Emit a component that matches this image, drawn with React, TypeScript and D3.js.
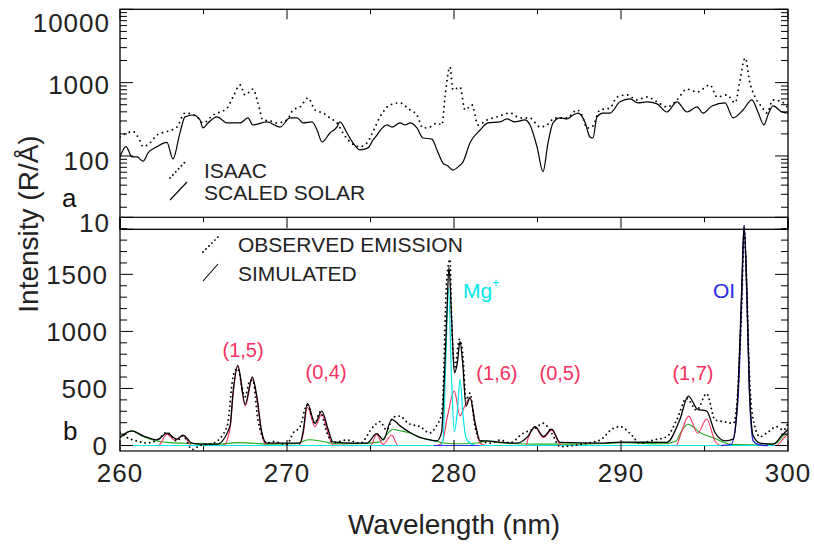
import React from 'react';
import * as d3 from 'd3';

type Pt = [number, number];

// wavelength (nm), intensity (R/Å)
const solarTop: Pt[] = [
  [260.0, 97], [260.36, 134], [260.72, 97], [261.02, 97], [261.38, 85], [261.68, 110], [262.22, 134],
  [262.81, 153], [263.17, 91], [263.59, 206], [263.89, 341], [264.37, 362], [264.79, 310], [264.97, 241],
  [265.27, 282], [265.81, 341], [266.41, 282], [267.19, 282], [267.66, 330], [267.96, 265], [268.8, 291],
  [269.58, 248], [270.18, 330], [270.6, 330], [270.96, 282], [271.5, 291], [271.8, 226], [272.1, 155],
  [272.57, 206], [272.99, 248], [273.17, 291], [273.59, 206], [273.95, 151], [274.37, 121], [274.85, 129],
  [275.15, 165], [275.39, 193], [275.57, 221], [275.99, 265], [276.29, 248], [276.77, 282], [277.07, 265],
  [277.37, 282], [277.78, 241], [278.14, 176], [278.68, 170], [278.98, 121], [279.34, 80], [279.64, 73],
  [279.94, 64], [280.24, 71], [280.54, 83], [280.96, 151], [281.56, 226], [282.04, 282], [282.75, 291],
  [283.17, 320], [283.65, 291], [284.25, 310], [284.55, 265], [284.97, 134], [285.33, 61], [285.63, 151],
  [285.93, 282], [286.35, 330], [286.77, 320], [287.13, 362], [287.43, 385], [287.84, 291], [288.14, 182],
  [288.32, 176], [288.56, 341], [288.92, 385], [289.34, 385], [289.94, 547], [290.54, 599], [291.02, 530],
  [291.56, 547], [292.16, 513], [292.75, 398], [293.35, 547], [293.95, 398], [294.55, 467], [294.91, 385],
  [295.45, 481], [296.23, 530], [296.71, 330], [297.31, 424], [297.84, 581], [298.2, 398], [298.56, 265],
  [298.8, 362], [299.1, 481], [299.64, 398], [300.0, 385],
];

const isaacTop: Pt[] = [
  [260.0, 182], [260.78, 215], [261.2, 161], [261.38, 134], [261.8, 151], [262.22, 193], [262.81, 215],
  [263.41, 248], [263.89, 385], [264.61, 341], [264.97, 282], [265.57, 362], [266.41, 450], [266.77, 637],
  [267.19, 931], [267.49, 679], [267.96, 817], [268.26, 530], [268.56, 310], [268.98, 300], [269.4, 282],
  [270.0, 310], [270.36, 424], [270.78, 466], [271.26, 618], [271.68, 424], [272.16, 385], [272.57, 330],
  [272.99, 282], [273.35, 206], [273.77, 155], [274.37, 134], [274.79, 151], [275.15, 215], [275.57, 341],
  [276.17, 496], [276.77, 530], [277.07, 481], [277.37, 424], [277.78, 362], [278.14, 241], [278.56, 248],
  [278.98, 282], [279.28, 265], [279.46, 637], [279.76, 1637], [279.94, 794], [280.36, 870], [280.66, 424],
  [281.08, 496], [281.44, 265], [281.98, 310], [282.57, 341], [283.35, 385], [283.95, 330], [284.55, 330],
  [285.15, 248], [285.57, 265], [286.05, 330], [286.77, 330], [287.37, 424], [287.66, 362], [287.96, 241],
  [288.26, 248], [288.74, 424], [289.34, 450], [289.76, 637], [290.36, 679], [290.96, 581], [291.56, 637],
  [292.16, 547], [292.75, 466], [293.35, 581], [293.95, 817], [294.55, 745], [295.33, 931], [295.75, 637],
  [296.35, 679], [296.83, 530], [297.13, 1089], [297.43, 2173], [297.72, 996], [298.02, 637], [298.44, 466],
  [298.74, 385], [299.1, 581], [299.64, 547], [300.0, 450],
];

// wavelength (nm), intensity (R/Å), linear panel
const observed: Pt[] = [
  [260.0, 115], [260.42, 70], [261.02, 40], [261.62, 22], [262.22, 48], [262.81, 115], [263.41, 40],
  [263.77, 85], [264.31, -35], [264.79, 0], [265.57, 20], [266.41, 165], [266.77, 600], [267.02, 675],
  [267.49, 427], [267.78, 570], [267.96, 570], [268.26, 225], [268.8, 22], [269.16, 35], [270.0, 10],
  [270.36, 108], [270.78, 165], [271.2, 355], [271.68, 195], [271.98, 295], [272.4, 108], [272.75, 25],
  [273.59, 48], [274.37, 20], [275.17, 165], [275.57, 210], [275.97, 135], [276.37, 250], [276.77, 258],
  [277.26, 195], [277.96, 165], [278.56, 110], [278.74, 130], [278.98, 180], [279.28, 290], [279.56, 1440],
  [279.76, 1632], [279.86, 1100], [280.06, 690], [280.32, 930], [280.52, 810], [280.72, 400], [280.96, 460],
  [281.26, 165], [281.56, 48], [282.16, 20], [282.75, 48], [283.35, 25], [284.15, 108], [284.85, 150],
  [285.35, 195], [285.85, 108], [286.35, -10], [287.14, 0], [287.95, 20], [288.74, 48], [289.54, 150],
  [289.94, 165], [290.54, 108], [291.14, 20], [291.93, 48], [292.74, 77], [293.34, 225], [293.93, 413],
  [294.53, 310], [295.13, 455], [295.63, 225], [296.13, 210], [296.73, 195], [296.92, 340], [297.23, 1240],
  [297.38, 1875], [297.53, 1390], [297.68, 660], [297.92, 225], [298.32, 77], [298.72, 108], [299.32, 165],
  [299.72, 135], [300.0, 195],
];

const simulated: Pt[] = [
  [260.0, 70], [260.7, 128], [261.38, 85], [262.22, 50], [262.81, 108], [263.41, 56], [263.77, 91],
  [264.31, 21], [264.79, 12], [265.81, 12], [266.59, 172], [266.77, 465], [267.05, 703], [267.5, 361],
  [267.92, 602], [268.19, 433], [268.49, 117], [268.78, 21], [270.78, 21], [270.96, 117], [271.22, 369],
  [271.68, 195], [272.08, 302], [272.46, 143], [272.75, 32], [274.0, 20], [274.79, 21], [275.37, 105],
  [275.77, 50], [276.27, 230], [276.77, 172], [277.37, 114], [277.96, 71], [278.38, 56], [278.98, 41],
  [279.26, 117], [279.4, 520], [279.56, 1101], [279.7, 1565], [279.86, 1101], [280.02, 637], [280.2, 724],
  [280.36, 912], [280.52, 724], [280.72, 346], [280.96, 419], [281.26, 201], [281.56, 41], [281.96, 41],
  [282.56, 32], [283.75, 21], [284.45, 85], [284.85, 166], [285.35, 79], [285.85, 143], [286.35, 27],
  [288.74, 21], [290.0, 30], [292.74, 27], [293.53, 230], [294.03, 433], [294.59, 317], [295.13, 302],
  [295.63, 114], [296.23, 41], [296.72, 56], [297.02, 520], [297.23, 1391], [297.37, 1929], [297.53, 1391],
  [297.68, 520], [297.92, 85], [298.32, 21], [299.12, 12], [299.62, 85], [300.0, 143],
];

const n2Bands: Pt[] = [
  [260.0, 0], [262.3, 0], [262.81, 100], [263.3, 45], [263.77, 85], [264.3, 0], [266.2, 0], [266.59, 150],
  [266.77, 450], [267.05, 690], [267.5, 345], [267.92, 590], [268.19, 420], [268.49, 100], [268.78, 0],
  [270.7, 0], [270.96, 95], [271.22, 335], [271.68, 165], [272.08, 275], [272.46, 110], [272.75, 5],
  [275.0, 0], [275.37, 95], [275.75, 10], [276.27, 90], [276.65, 0], [279.0, 0], [279.3, 30], [279.6, 250],
  [280.02, 477], [280.36, 259], [280.6, 330], [280.96, 419], [281.26, 200], [281.56, 20], [281.9, 0],
  [284.3, 0], [284.45, 70], [284.85, 160], [285.35, 70], [285.85, 135], [286.35, 10], [286.6, 0],
  [293.3, 0], [293.6, 110], [294.05, 258], [294.59, 108], [295.13, 232], [295.63, 40], [296.0, 0],
  [299.3, 0], [299.72, 60], [300.0, 100],
];

const otherBand: Pt[] = [
  [260.0, 70], [260.7, 128], [261.38, 80], [262.22, 40], [263.0, 25], [264.3, 18], [266.0, 12], [267.0, 25],
  [268.0, 20], [269.0, 12], [270.5, 15], [271.3, 50], [272.0, 40], [272.7, 20], [274.0, 15], [275.5, 30],
  [276.0, 100], [276.3, 142], [276.77, 130], [277.37, 110], [277.96, 70], [278.98, 35], [279.5, 20],
  [280.5, 15], [281.5, 25], [282.0, 40], [282.5, 30], [283.5, 18], [285.0, 12], [287.0, 12], [289.0, 18],
  [290.0, 25], [291.0, 20], [292.5, 15], [293.3, 40], [293.6, 120], [294.0, 187], [294.8, 108], [295.6, 63],
  [296.2, 25], [296.8, 8], [298.5, 5], [299.3, 20], [299.7, 80], [300.0, 108],
];

const mgPlus: Pt[] = [
  [260.0, 0], [279.2, 0], [279.35, 60], [279.5, 700], [279.67, 1380], [279.85, 600], [280.02, 120],
  [280.2, 300], [280.36, 580], [280.55, 250], [280.7, 77], [280.96, 20], [281.3, 0], [300.0, 0],
];

const oiBase: Pt[] = [[278.8, 0], [281.5, 0]];
const oiLine: Pt[] = [
  [296.0, 0], [296.6, 10], [297.0, 400], [297.23, 1300], [297.37, 1929], [297.53, 1350], [297.7, 450],
  [297.92, 40], [298.3, 5], [298.8, 0],
];

const topTickValues = [10, 100, 1000, 10000];
const topTickNudge = [-7, 5, 2, 13];
const botTickValues = [0, 500, 1000, 1500];
const xTickValues = [260, 270, 280, 290, 300];

const bandLabels = [
  { text: '(1,5)', wl: 267.37, v: 776 },
  { text: '(0,4)', wl: 272.34, v: 583 },
  { text: '(1,6)', wl: 282.57, v: 574 },
  { text: '(0,5)', wl: 286.35, v: 574 },
  { text: '(1,7)', wl: 294.31, v: 574 },
];

const RED = '#f5305f';
const GREEN = '#1faa1f';
const CYAN = '#00e6e6';
const BLUE = '#2a2ae6';
const FONT = '"Liberation Sans", Arial, Helvetica, sans-serif';

const L = 120, R = 788;
const topY0 = 9.3, topY1 = 229.3;
const botY0 = 217.3, botY1 = 451;

export default function App() {
  const x = d3.scaleLinear().domain([260, 300]).range([L, R]);
  const yTop = d3.scaleLog().domain([10, 10000]).range([topY1, topY0]);
  const yBot = d3.scaleLinear().domain([-48, 2000]).range([botY1, botY0]);

  const lineTop = d3.line<Pt>().x(d => x(d[0])).y(d => yTop(d[1])).curve(d3.curveMonotoneX);
  const lineBot = d3.line<Pt>().x(d => x(d[0])).y(d => yBot(d[1])).curve(d3.curveMonotoneX);

  const xMinor = d3.range(260, 300.1, 5);
  const topLogTicks = yTop.ticks();
  const botTicks = d3.range(0, 2001, 100);

  const dotted = { fill: 'none', stroke: '#000', strokeWidth: 1.9, strokeDasharray: '0 4.6', strokeLinecap: 'round' as const };

  return (
    <svg width={814} height={552} style={{ position: 'absolute', left: 0, top: 0, background: '#fff' }} fontFamily={FONT}>
      <defs>
        <clipPath id="clipTop"><rect x={L} y={topY0} width={R - L} height={topY1 - topY0} /></clipPath>
        <clipPath id="clipBot"><rect x={L} y={botY0} width={R - L} height={botY1 - botY0} /></clipPath>
      </defs>

      {/* bottom panel curves */}
      <g clipPath="url(#clipBot)">
        <path d={lineBot(otherBand) || ''} fill="none" stroke={GREEN} strokeWidth={1.1} />
        <path d={lineBot(n2Bands) || ''} fill="none" stroke={RED} strokeWidth={1.1} />
        <path d={lineBot(mgPlus) || ''} fill="none" stroke={CYAN} strokeWidth={1.2} />
        <path d={lineBot(oiBase) || ''} fill="none" stroke={BLUE} strokeWidth={1.1} />
        <path d={lineBot(oiLine) || ''} fill="none" stroke={BLUE} strokeWidth={1.4} />
        <path d={lineBot(simulated) || ''} fill="none" stroke="#000" strokeWidth={1.3} />
        <path d={lineBot(observed) || ''} {...dotted} />
      </g>

      {/* top panel curves */}
      <g clipPath="url(#clipTop)">
        <path d={lineTop(solarTop) || ''} fill="none" stroke="#000" strokeWidth={1.2} />
        <path d={lineTop(isaacTop) || ''} {...dotted} strokeDasharray="0 5.2" />
      </g>

      {/* bottom panel frame and ticks */}
      <rect x={L} y={botY0} width={R - L} height={botY1 - botY0} fill="none" stroke="#000" strokeWidth={1.2} />
      {botTicks.map(t => {
        const len = t % 500 === 0 ? 13 : 7;
        return (
          <g key={'bt' + t} stroke="#000" strokeWidth={1}>
            <line x1={L} x2={L + len} y1={yBot(t)} y2={yBot(t)} />
            <line x1={R} x2={R - len} y1={yBot(t)} y2={yBot(t)} />
          </g>
        );
      })}
      {xMinor.map(t => {
        const len = t % 10 === 0 ? 11 : 5;
        return (
          <g key={'bx' + t} stroke="#000" strokeWidth={1}>
            <line x1={x(t)} x2={x(t)} y1={botY0} y2={botY0 + len} />
            <line x1={x(t)} x2={x(t)} y1={botY1} y2={botY1 - len} />
          </g>
        );
      })}

      {/* top panel frame and ticks */}
      <rect x={L} y={topY0} width={R - L} height={topY1 - topY0} fill="none" stroke="#000" strokeWidth={1.3} />
      {topLogTicks.map(t => {
        const major = topTickValues.includes(t);
        const len = major ? 13 : 7;
        return (
          <g key={'tt' + t} stroke="#000" strokeWidth={1}>
            <line x1={L} x2={L + len} y1={yTop(t)} y2={yTop(t)} />
            <line x1={R} x2={R - len} y1={yTop(t)} y2={yTop(t)} />
          </g>
        );
      })}
      {xMinor.map(t => {
        const len = t % 10 === 0 ? 10 : 5;
        return <line key={'tx' + t} x1={x(t)} x2={x(t)} y1={topY0} y2={topY0 + len} stroke="#000" strokeWidth={1} />;
      })}

      {/* tick labels */}
      <g fontSize={26} fill="#222" textAnchor="end" letterSpacing={1}>
        {topTickValues.map((v, i) => (
          <text key={'tl' + v} x={110} y={yTop(v) + topTickNudge[i] + 9.5}>{String(v)}</text>
        ))}
        {botTickValues.map(v => (
          <text key={'bl' + v} x={108} y={yBot(v) + 9.5}>{String(v)}</text>
        ))}
      </g>
      <g fontSize={26} fill="#222" textAnchor="middle" letterSpacing={1}>
        {xTickValues.map(v => (
          <text key={'xl' + v} x={x(v)} y={482}>{String(v)}</text>
        ))}
      </g>
      <text x={62} y={207} fontSize={26} fill="#111">a</text>
      <text x={63} y={440} fontSize={26} fill="#111">b</text>

      {/* axis titles */}
      <text transform="translate(38,224) rotate(-90)" textAnchor="middle" fontSize={28} fill="#222">Intensity (R/Å)</text>
      <text x={454} y={534} textAnchor="middle" fontSize={28} fill="#222">Wavelength (nm)</text>

      {/* legends */}
      <line x1={170} y1={178} x2={185} y2={162} {...dotted} strokeDasharray="0 4.2" />
      <line x1={170} y1={200} x2={187} y2={182} stroke="#000" strokeWidth={1.1} />
      <text x={204} y={178} fontSize={21} fill="#222">ISAAC</text>
      <text x={204} y={200} fontSize={21} fill="#222">SCALED SOLAR</text>
      <line x1={203} y1={252} x2={218} y2={237} {...dotted} strokeDasharray="0 4.2" />
      <line x1={203} y1={281} x2={218} y2={264} stroke="#000" strokeWidth={1.1} />
      <text x={238} y={252} fontSize={21} fill="#222">OBSERVED EMISSION</text>
      <text x={238} y={281} fontSize={21} fill="#222">SIMULATED</text>

      {/* band annotations */}
      {bandLabels.map(b => (
        <text key={b.text} x={x(b.wl)} y={yBot(b.v)} textAnchor="middle" fontSize={20} fill={RED}>{b.text}</text>
      ))}
      <text x={x(280.54)} y={yBot(1293)} fontSize={21} fill={CYAN}>
        Mg<tspan fontSize={12} dy={-11}>+</tspan>
      </text>
      <text x={x(295.51)} y={yBot(1293)} fontSize={21} fill={BLUE}>OI</text>
    </svg>
  );
}
